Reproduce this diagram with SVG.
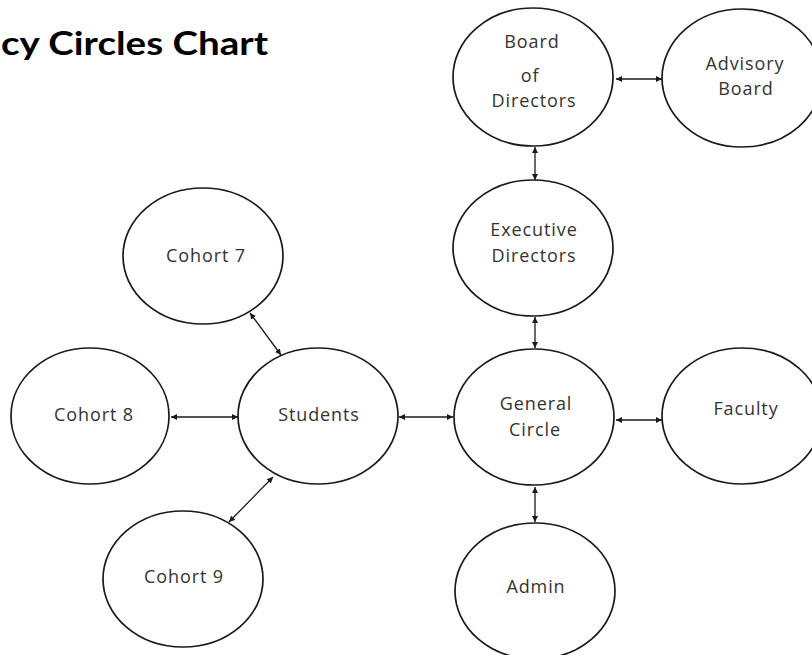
<svg xmlns="http://www.w3.org/2000/svg" width="812" height="655" viewBox="0 0 812 655">
<style>
.node ellipse{fill:#fff;stroke:#1a1a1a;stroke-width:1.7}
.node text{font-family:"Open Sans","DejaVu Sans",sans-serif;font-size:18px;fill:#333;text-anchor:middle;letter-spacing:0.9px}
.title{font-family:Lato,"Liberation Sans",sans-serif;font-weight:bold;font-size:32px;fill:#000}
#connectors line{stroke:#1a1a1a;stroke-width:1.3;marker-start:url(#ah);marker-end:url(#ah)}
</style>
<defs>
<marker id="ah" viewBox="0 0 10 10" refX="10" refY="5" markerWidth="6" markerHeight="6" markerUnits="userSpaceOnUse" orient="auto-start-reverse">
<path d="M0,0 L10,5 L0,10 z" fill="#1a1a1a"/>
</marker>
</defs>
<rect width="812" height="655" fill="#fff"/>
<text class="title" x="1" y="55" textLength="267" lengthAdjust="spacingAndGlyphs">cy Circles Chart</text>
<g id="connectors">
<line x1="616" y1="79" x2="662" y2="79"/>
<line x1="535" y1="147" x2="535" y2="180"/>
<line x1="535" y1="317" x2="535" y2="348"/>
<line x1="616" y1="420" x2="662" y2="420"/>
<line x1="399" y1="417" x2="453" y2="417"/>
<line x1="171" y1="417" x2="238" y2="417"/>
<line x1="250" y1="313" x2="281" y2="355"/>
<line x1="273" y1="477" x2="229" y2="522"/>
<line x1="535" y1="487" x2="535" y2="522"/>
</g>
<g id="board" class="node"><ellipse cx="533" cy="77" rx="80" ry="69"/><text x="532" y="48">Board</text><text x="530" y="82">of</text><text x="534" y="107">Directors</text></g>
<g id="advisory" class="node"><ellipse cx="742" cy="78" rx="80" ry="69"/><text x="745" y="70">Advisory</text><text x="746" y="95">Board</text></g>
<g id="executive" class="node"><ellipse cx="533" cy="248" rx="80" ry="68"/><text x="534" y="236">Executive</text><text x="534" y="262">Directors</text></g>
<g id="general" class="node"><ellipse cx="534" cy="417" rx="80" ry="68"/><text x="536" y="410">General</text><text x="535" y="436">Circle</text></g>
<g id="faculty" class="node"><ellipse cx="742" cy="416" rx="80" ry="68"/><text x="746" y="415">Faculty</text></g>
<g id="admin" class="node"><ellipse cx="535" cy="591" rx="80" ry="68"/><text x="536" y="593">Admin</text></g>
<g id="cohort7" class="node"><ellipse cx="203" cy="256" rx="80" ry="68"/><text x="206" y="262">Cohort 7</text></g>
<g id="cohort8" class="node"><ellipse cx="90" cy="416" rx="79" ry="68"/><text x="94" y="421">Cohort 8</text></g>
<g id="students" class="node"><ellipse cx="318" cy="416" rx="80" ry="68"/><text x="319" y="421">Students</text></g>
<g id="cohort9" class="node"><ellipse cx="183" cy="579" rx="80" ry="68"/><text x="184" y="583">Cohort 9</text></g>
</svg>
